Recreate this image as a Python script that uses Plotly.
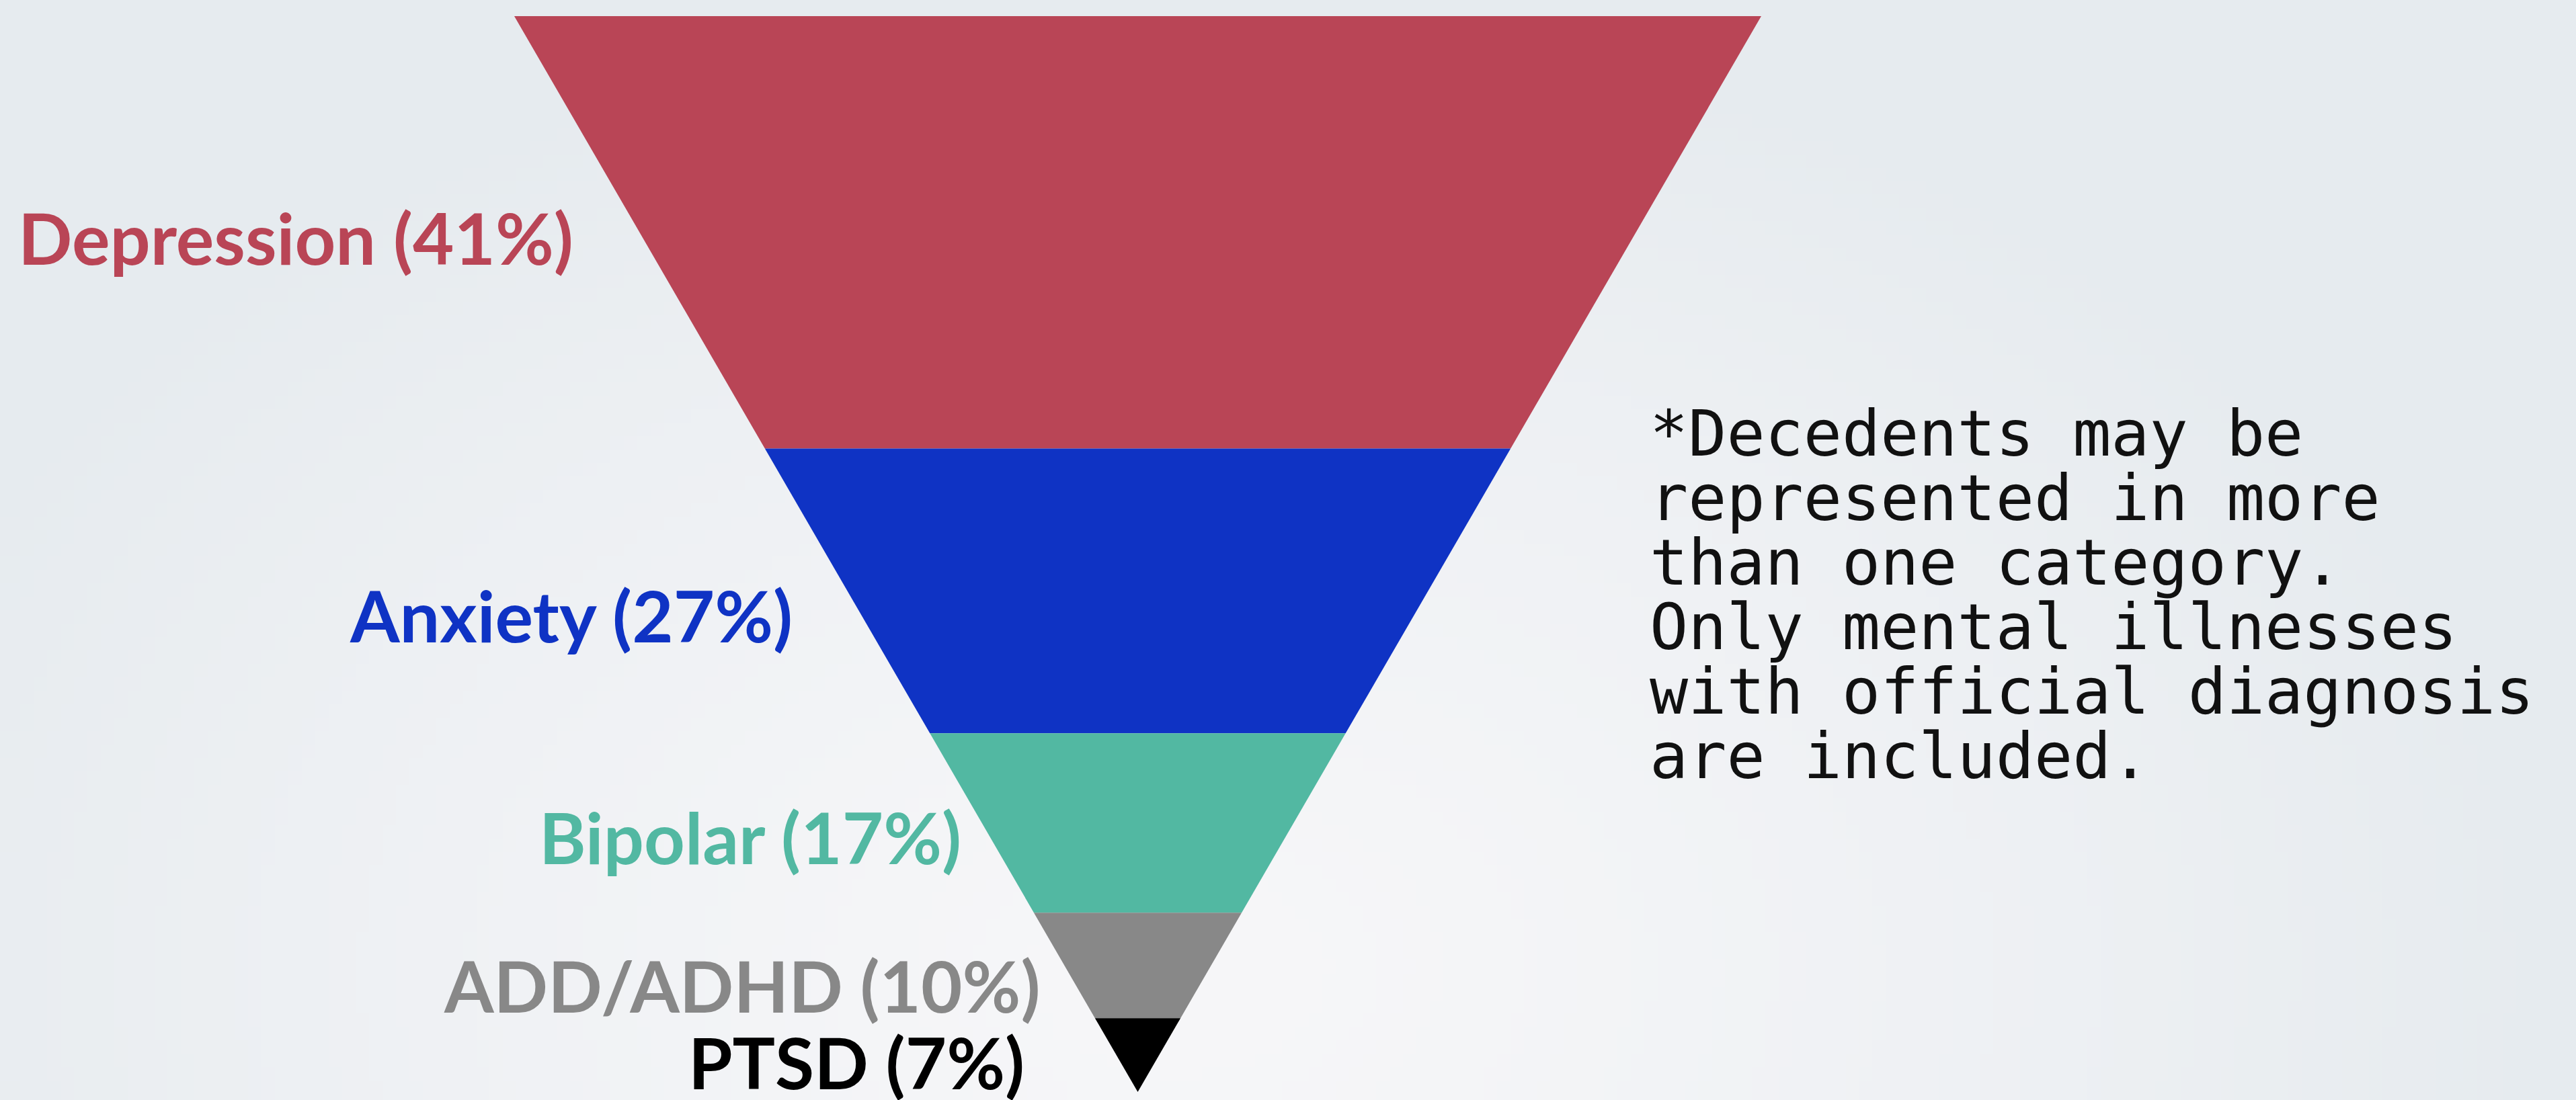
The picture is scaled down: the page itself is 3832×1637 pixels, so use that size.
import base64
import struct
import zlib

import numpy as np
import plotly.graph_objects as go

# ---- data ----
categories = ["Depression", "Anxiety", "Bipolar", "ADD/ADHD", "PTSD"]
values = [41, 27, 17, 10, 7]
slice_colors = ["#B94556", "#0F33C4", "#52B8A2", "#888888", "#000000"]
label_colors = ["#B94556", "#0F33C4", "#52B8A2", "#888888", "#000000"]
note_lines = [
    "*Decedents may be",
    "represented in more",
    "than one category.",
    "Only mental illnesses",
    "with official diagnosis",
    "are included.",
]

# ---- layout constants (canvas units) ----
W, H = 3832, 1637
TOP_Y, APEX_Y = 24, 1625
LEFT_X, RIGHT_X = 765, 2620
CX = (LEFT_X + RIGHT_X) / 2
label_gap = [100, 100, 40, 50, 140]
label_dy = [7, 36, 20, 29, 10]


def gradient_png(w=192, h=82):
    """Soft radial background gradient as a PNG data URI."""
    xs = np.linspace(0, W, w)[None, :]
    ys = np.linspace(0, H, h)[:, None]
    d = np.sqrt(((xs - 1750) / 2100) ** 2 + ((ys - 1450) / 1500) ** 2)
    t = np.clip(d, 0, 1) ** 1.3
    c0 = np.array([247, 247, 249], float)
    c1 = np.array([230, 235, 239], float)
    img = (c0[None, None, :] * (1 - t[..., None]) + c1[None, None, :] * t[..., None]).astype(np.uint8)
    raw = b"".join(b"\x00" + img[r].tobytes() for r in range(h))

    def chunk(tag, data):
        return struct.pack(">I", len(data)) + tag + data + struct.pack(">I", zlib.crc32(tag + data) & 0xFFFFFFFF)

    png = b"\x89PNG\r\n\x1a\n" + chunk(b"IHDR", struct.pack(">IIBBBBB", w, h, 8, 2, 0, 0, 0)) \
        + chunk(b"IDAT", zlib.compress(raw, 9)) + chunk(b"IEND", b"")
    return "data:image/png;base64," + base64.b64encode(png).decode()


def half_width(y):
    return (RIGHT_X - LEFT_X) / 2 * (APEX_Y - y) / (APEX_Y - TOP_Y)


total = sum(values)
fig = go.Figure()
annotations = []
cum = 0
for i, (cat, v) in enumerate(zip(categories, values)):
    y0 = TOP_Y + (APEX_Y - TOP_Y) * cum / total
    cum += v
    y1 = TOP_Y + (APEX_Y - TOP_Y) * cum / total
    w0, w1 = half_width(y0), half_width(y1)
    xs = [CX - w0, CX + w0, CX + w1, CX - w1, CX - w0]
    ys = [y0, y0, y1, y1, y0]
    fig.add_trace(go.Scatter(
        x=xs, y=ys, mode="lines", fill="toself",
        fillcolor=slice_colors[i], line=dict(width=0, color=slice_colors[i]),
        hoverinfo="text", text=f"{cat} ({v}%)", showlegend=False,
    ))
    ym = (y0 + y1) / 2 + label_dy[i]
    xr = CX - half_width(ym) - label_gap[i]
    annotations.append(dict(
        x=xr, y=ym, xref="x", yref="y", xanchor="right", yanchor="middle",
        text=f"<b>{cat} ({v}%)</b>", showarrow=False,
        font=dict(family="Lato", size=106, color=label_colors[i]),
    ))

NOTE_X, NOTE_Y0, NOTE_DY = 2452, 645, 96
for k, line in enumerate(note_lines):
    annotations.append(dict(
        x=NOTE_X, y=NOTE_Y0 + k * NOTE_DY, xref="x", yref="y",
        xanchor="left", yanchor="middle", text=line, showarrow=False,
        font=dict(family="DejaVu Sans Mono", size=95, color="#111111"),
    ))

fig.update_layout(
    width=W, height=H,
    margin=dict(l=0, r=0, t=0, b=0),
    paper_bgcolor="#EEF1F4", plot_bgcolor="rgba(0,0,0,0)",
    xaxis=dict(range=[0, W], visible=False, fixedrange=True),
    yaxis=dict(range=[H, 0], visible=False, fixedrange=True),
    annotations=annotations,
    images=[dict(source=gradient_png(), xref="paper", yref="paper", x=0, y=1,
                 sizex=1, sizey=1, xanchor="left", yanchor="top",
                 sizing="stretch", layer="below")],
)
fig.write_html(
    "out.html",
    config={"displayModeBar": False},
    post_script="document.body.style.margin='0';document.body.style.padding='0';",
)
